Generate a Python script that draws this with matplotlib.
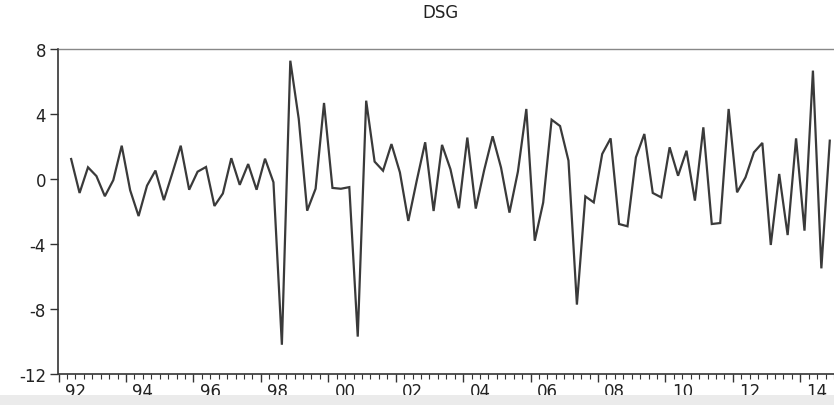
import numpy as np
import matplotlib
matplotlib.use("Agg")
import matplotlib.pyplot as plt
from matplotlib.patches import Rectangle

plt.rcParams['font.family'] = ['DejaVu Sans']

title = "DSG"
start_year = 1992
start_quarter = 2  # first observation 1992Q2
dsg = [
    1.23, -0.86, 0.72, 0.18, -1.06, -0.07, 2.05, -0.69, -2.28, -0.41,
    0.52, -1.30, 0.35, 2.05, -0.66, 0.45, 0.74, -1.66, -0.89, 1.28,
    -0.36, 0.92, -0.66, 1.25, -0.20, -10.20, 7.28, 3.70, -1.95, -0.60,
    4.68, -0.55, -0.60, -0.50, -9.70, 4.82, 1.07, 0.51, 2.15, 0.41,
    -2.58, -0.10, 2.26, -1.97, 2.10, 0.60, -1.80, 2.55, -1.82, 0.55,
    2.63, 0.70, -2.07, 0.45, 4.31, -3.80, -1.45, 3.65, 3.26, 1.13,
    -7.73, -1.07, -1.44, 1.54, 2.50, -2.77, -2.91, 1.33, 2.77, -0.86,
    -1.13, 1.95, 0.20, 1.74, -1.33, 3.18, -2.77, -2.71, 4.31, -0.82,
    0.10, 1.64, 2.22, -4.06, 0.31, -3.45, 2.50, -3.18, 6.67, -5.50,
    2.36,
]
year_labels = ["92", "94", "96", "98", "00", "02", "04", "06", "08", "10", "12", "14"]
label_years = [1992, 1994, 1996, 1998, 2000, 2002, 2004, 2006, 2008, 2010, 2012, 2014]
y_ticks = [8, 4, 0, -4, -8, -12]

n = len(dsg)
x = start_year + (start_quarter - 1 + np.arange(n) + 0.5) / 4.0

W, H = 834, 406
fig = plt.figure(figsize=(W / 100, H / 100), dpi=100)
fig.patch.set_facecolor('white')
fig.patches.append(Rectangle((0, 0), 1, (406 - 396) / H, transform=fig.transFigure,
                             facecolor='#ebebeb', edgecolor='none', zorder=0))

left, right = 58.5 / W, 1.0
top, bottom = 1 - 50 / H, 1 - 375 / H
ax = fig.add_axes([left, bottom, right - left, top - bottom])
ax.set_facecolor('none')

ax.plot(x, dsg, color='#3a3a3a', linewidth=1.6, solid_joinstyle='miter')

ax.set_ylim(-12, 8)
ax.set_yticks(y_ticks)
ax.set_yticklabels([str(v) for v in y_ticks])
ax.set_xlim(1992.0, 1992.0 + (W - 58.5) / 33.95)

# major ticks at even years, minor ticks each quarter
ax.set_xticks(label_years)
ax.set_xticklabels([''] * len(label_years))
ax.set_xticks(np.arange(1992, 2015.01, 0.25), minor=True)
ax.tick_params(axis='x', which='major', direction='out', length=5.5, width=1.0, color='#333333')
ax.tick_params(axis='x', which='minor', direction='out', length=3.5, width=0.8, color='#333333')
ax.tick_params(axis='y', which='major', direction='out', length=6, width=1.0, color='#333333',
               labelsize=12, pad=3, labelcolor='#222222')

sec = ax.secondary_xaxis('bottom')
sec.set_xticks([yr + 0.5 for yr in label_years])
sec.set_xticklabels(year_labels)
sec.tick_params(length=0, labelsize=12, pad=6, labelcolor='#222222')
sec.spines['bottom'].set_visible(False)

for s in ['left', 'bottom']:
    ax.spines[s].set_color('#333333')
    ax.spines[s].set_linewidth(1.2)
ax.spines['top'].set_color('#888888')
ax.spines['top'].set_linewidth(1.0)
ax.spines['right'].set_visible(False)

fig.text(440 / W, 1 - 13 / H, title, ha='center', va='center', fontsize=12, color='#222222')

fig.savefig('out.png', dpi=100)
